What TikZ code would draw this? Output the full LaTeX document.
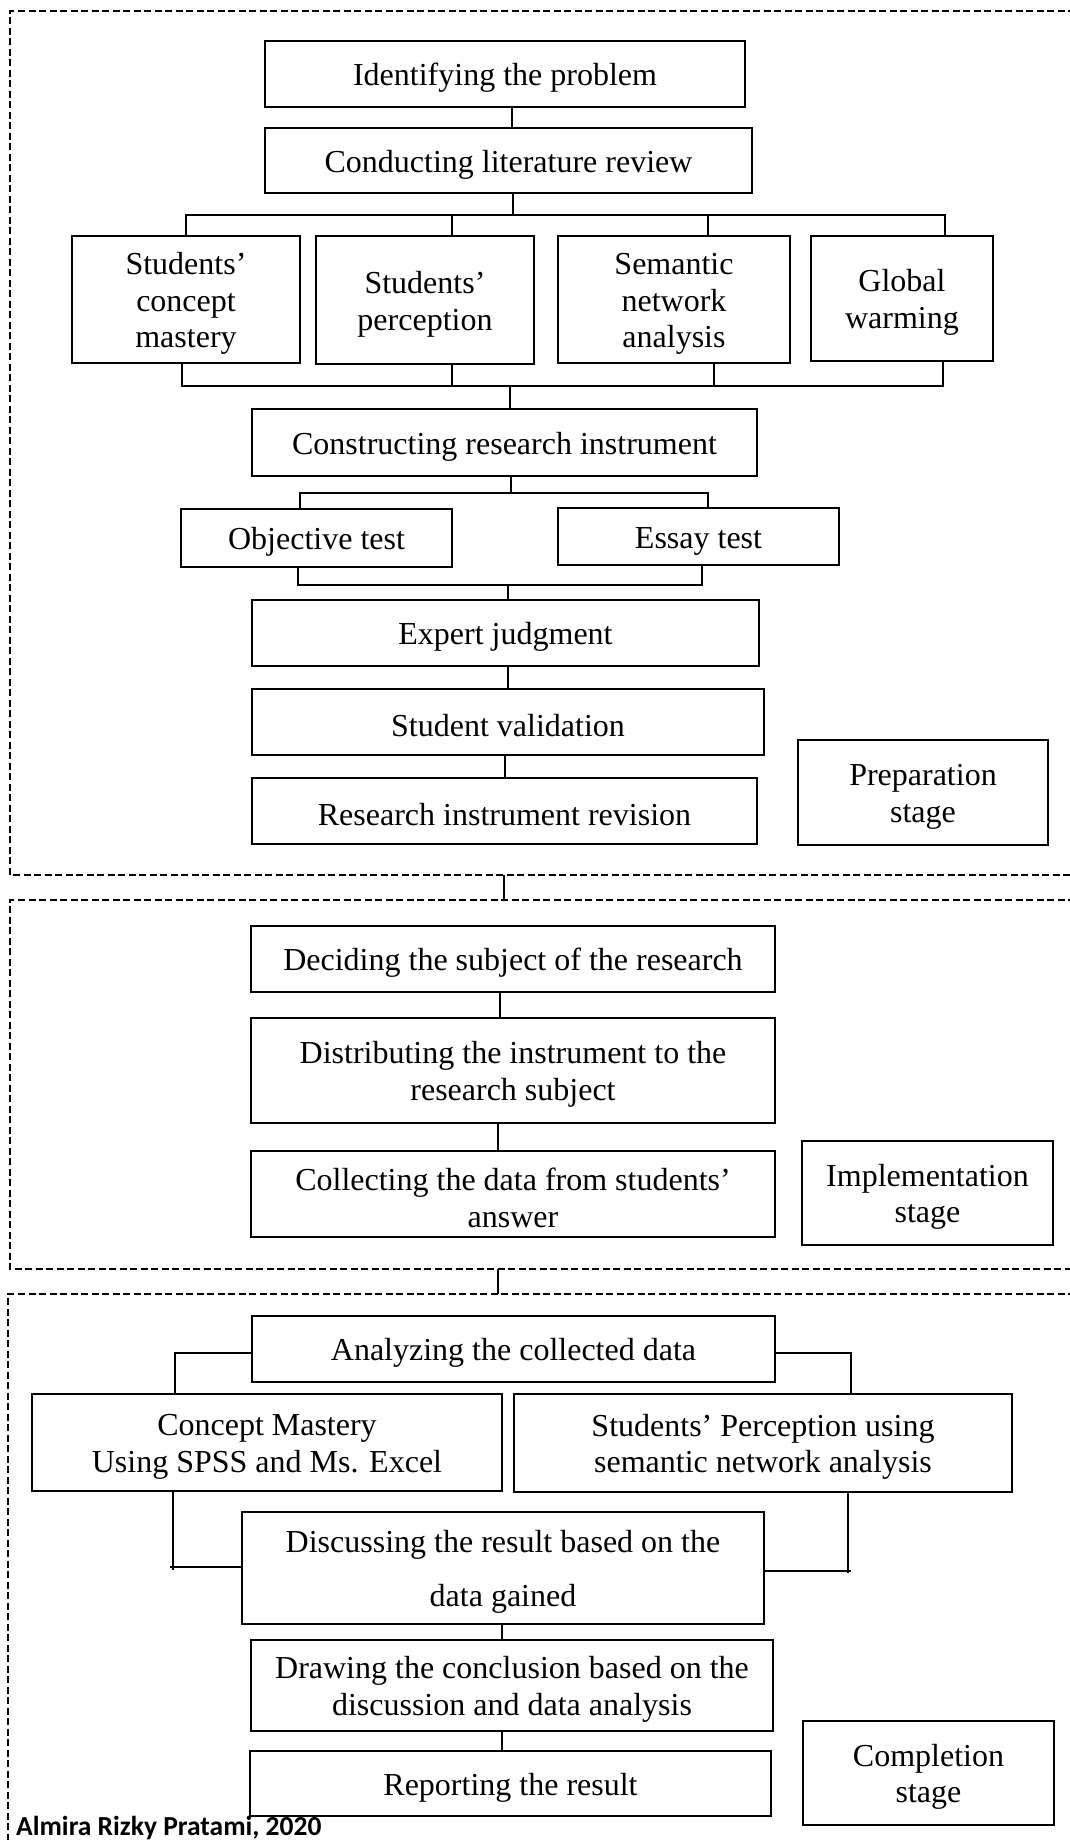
\documentclass[tikz,border=0pt]{standalone}
\usepackage{fontspec}
\setmainfont{Liberation Serif}
\newfontfamily\credfont{Carlito}
\newcommand{\tstrut}{\rule{0pt}{30pt}}
\begin{document}
\begin{tikzpicture}[x=1pt,y=-1pt,
  box/.style={draw=black,line width=2pt,inner sep=0pt,align=center,
    font=\fontsize{32}{36.8}\selectfont},
  conn/.style={line width=1.5pt},
  frame/.style={line width=2.5pt,dash pattern=on 7pt off 3.5pt}]
\useasboundingbox[fill=white] (0,0) rectangle (1070,1840);

% ---------- frames ----------
\draw[frame] (1075,11) -- (10,11) -- (10,875) -- (1075,875);
\draw[frame] (1075,900) -- (10,900) -- (10,1269) -- (1075,1269);
\draw[frame] (1075,1294) -- (8,1294) -- (8,1850);
\coordinate (s1b) at (504,875);
\coordinate (s2t) at (504,900);
\coordinate (s2b) at (498,1269);
\coordinate (s3t) at (498,1294);
\draw[conn] (s1b) -- (s2t);
\draw[conn] (s2b) -- (s3t);

% ---------- section 1 ----------
\node[box,minimum width=480,minimum height=66] (iden) at (505,74) {\tstrut Identifying the problem};
\node[box,minimum width=487,minimum height=65] (conduct) at (508.5,160.5) {\tstrut Conducting literature review};
\node[box,minimum width=228,minimum height=127] (b1) at (186,299.5) {\tstrut Students’\\concept\\mastery};
\node[box,minimum width=218,minimum height=128] (b2) at (425,300) {\tstrut Students’\\perception};
\node[box,minimum width=232,minimum height=127] (b3) at (674,299.5) {\tstrut Semantic\\network\\analysis};
\node[box,minimum width=182,minimum height=125] (b4) at (902,298.5) {\tstrut Global\\warming};
\node[box,minimum width=505,minimum height=67] (constr) at (504.5,442.5) {\tstrut Constructing research instrument};
\node[box,minimum width=271,minimum height=58] (obj) at (316.5,538) {\tstrut Objective test};
\node[box,minimum width=281,minimum height=57] (essay) at (698.5,536.5) {\tstrut Essay test};
\node[box,minimum width=507,minimum height=66] (expert) at (505.5,633) {\tstrut Expert judgment};
\node[box,minimum width=512,minimum height=66] (stval) at (508,722) {\tstrut Student validation};
\node[box,minimum width=505,minimum height=66] (revis) at (504.5,811) {\tstrut Research instrument revision};
\node[box,minimum width=250,minimum height=105] (prep) at (923,792.5) {\tstrut Preparation\\stage};

\coordinate (x1) at (512,0);
\draw[conn] (iden.south -| x1) -- (conduct.north -| x1);
\coordinate (tb) at (513,215);
\coordinate (d1) at (186,215);
\coordinate (d2) at (452,215);
\coordinate (d3) at (708,215);
\coordinate (d4) at (945,215);
\draw[conn] (conduct.south -| tb) -- (tb);
\draw[conn] (b1.north -| d1) -- (d1) -- (d4) -- (b4.north -| d4);
\draw[conn] (d2) -- (b2.north -| d2);
\draw[conn] (d3) -- (b3.north -| d3);
\coordinate (e1) at (182,386);
\coordinate (e2) at (452,386);
\coordinate (e3) at (714,386);
\coordinate (e4) at (943,386);
\coordinate (eb) at (510,386);
\draw[conn] (b1.south -| e1) -- (e1) -- (e4) -- (b4.south -| e4);
\draw[conn] (b2.south -| e2) -- (e2);
\draw[conn] (b3.south -| e3) -- (e3);
\draw[conn] (eb) -- (constr.north -| eb);
\coordinate (f0) at (511,493);
\coordinate (f1) at (300,493);
\coordinate (f2) at (708,493);
\draw[conn] (constr.south -| f0) -- (f0);
\draw[conn] (obj.north -| f1) -- (f1) -- (f2) -- (essay.north -| f2);
\coordinate (g0) at (508,585);
\coordinate (g1) at (298,585);
\coordinate (g2) at (702,585);
\draw[conn] (obj.south -| g1) -- (g1) -- (g2) -- (essay.south -| g2);
\draw[conn] (g0) -- (expert.north -| g0);
\draw[conn] (expert.south -| g0) -- (stval.north -| g0);
\coordinate (h0) at (505,0);
\draw[conn] (stval.south -| h0) -- (revis.north -| h0);

% ---------- section 2 ----------
\node[box,minimum width=524,minimum height=66] (decide) at (513,959) {\tstrut Deciding the subject of the research};
\node[box,minimum width=524,minimum height=105] (distr) at (513,1070.5) {\tstrut Distributing the instrument to the\\research subject};
\node[box,minimum width=524,minimum height=86] (collect) at (513,1194) {\tstrut Collecting the data from students’\\answer};
\node[box,minimum width=251,minimum height=104] (impl) at (927.5,1193) {\tstrut Implementation\\stage};
\coordinate (k0) at (500,0);
\coordinate (k1) at (498,0);
\draw[conn] (decide.south -| k0) -- (distr.north -| k0);
\draw[conn] (distr.south -| k1) -- (collect.north -| k1);

% ---------- section 3 ----------
\node[box,minimum width=523,minimum height=66] (analyze) at (513.5,1349) {\tstrut Analyzing the collected data};
\node[box,minimum width=470,minimum height=97] (concept) at (267,1442.5) {\tstrut Concept Mastery\\Using SPSS and Ms. Excel};
\node[box,minimum width=498,minimum height=98] (percep) at (763,1443) {\tstrut Students’ Perception using\\semantic network analysis};
\node[box,minimum width=522,minimum height=112] (discuss) at (503,1568) {\tstrut Discussing the result based on the\\[17pt]data gained};
\node[box,minimum width=522,minimum height=91] (drawc) at (512,1685.5) {\tstrut Drawing the conclusion based on the\\discussion and data analysis};
\node[box,minimum width=521,minimum height=65] (report) at (510.5,1783.5) {\tstrut Reporting the result};
\node[box,minimum width=251,minimum height=104] (compl) at (928.5,1773) {\tstrut Completion\\stage};

\coordinate (m1) at (175,1353);
\coordinate (m2) at (851,1353);
\draw[conn] (analyze.west |- m1) -- (m1) -- (concept.north -| m1);
\draw[conn] (analyze.east |- m2) -- (m2) -- (percep.north -| m2);
\coordinate (n1) at (173,1570);
\coordinate (n1a) at (170,1567);
\coordinate (n2) at (848,1573);
\coordinate (n2a) at (851,1571);
\draw[conn] (concept.south -| n1) -- (n1);
\draw[conn] (n1a) -- (discuss.west |- n1a);
\draw[conn] (percep.south -| n2) -- (n2);
\draw[conn] (discuss.east |- n2a) -- (n2a);
\coordinate (p0) at (502,0);
\draw[conn] (discuss.south -| p0) -- (drawc.north -| p0);
\draw[conn] (drawc.south -| p0) -- (report.north -| p0);

\node[anchor=base west,inner sep=0pt,font=\credfont\bfseries\fontsize{27.5}{31}\selectfont] (credit) at (16,1835) {Almira Rizky Pratami, 2020};
\end{tikzpicture}
\end{document}
